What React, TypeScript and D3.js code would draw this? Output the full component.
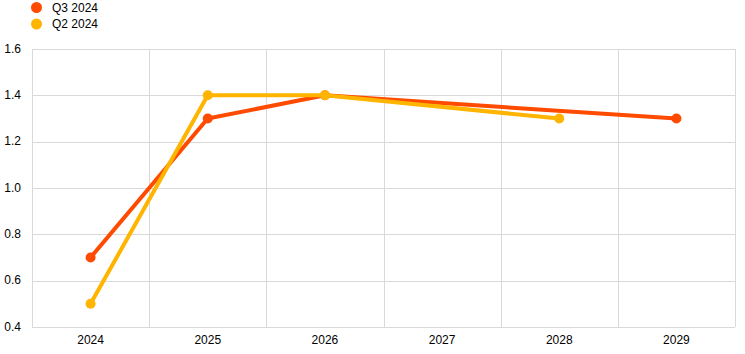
import React from "react";
import * as d3 from "d3";

const categories = ["2024", "2025", "2026", "2027", "2028", "2029"];
const q3Values: (number | null)[] = [0.7, 1.3, 1.4, null, null, 1.3];
const q2Values: (number | null)[] = [0.5, 1.4, 1.4, null, 1.3, null];
const yTicks = [0.4, 0.6, 0.8, 1.0, 1.2, 1.4, 1.6];
const seriesNames = ["Q3 2024", "Q2 2024"];
const seriesColors = ["#FF4B00", "#FFB400"];

const W = 745;
const H = 354;
const margin = { left: 32, right: 10, top: 49, bottom: 27 };

export default function App() {
  const x = d3
    .scaleBand<string>()
    .domain(categories)
    .range([margin.left, W - margin.right])
    .padding(0);
  const y = d3.scaleLinear().domain([0.4, 1.6]).range([H - margin.bottom, margin.top]);
  const cx = (c: string) => (x(c) as number) + x.bandwidth() / 2;

  const series = [q3Values, q2Values];
  const font = "Arial, 'Liberation Sans', sans-serif";

  const line = d3
    .line<{ c: string; v: number }>()
    .x((d) => cx(d.c))
    .y((d) => y(d.v));

  return (
    <svg
      width={W}
      height={H}
      style={{ position: "absolute", left: 0, top: 0, background: "#fff" }}
      fontFamily={font}
    >
      {yTicks.map((t) => (
        <line
          key={"h" + t}
          x1={margin.left}
          x2={W - margin.right}
          y1={Math.round(y(t)) + 0.5}
          y2={Math.round(y(t)) + 0.5}
          stroke="#d9d9d9"
          strokeWidth={1}
        />
      ))}
      {categories.map((c) => (
        <line
          key={"v" + c}
          x1={Math.round(x(c) as number) + 0.5}
          x2={Math.round(x(c) as number) + 0.5}
          y1={margin.top}
          y2={H - margin.bottom}
          stroke="#d9d9d9"
          strokeWidth={1}
        />
      ))}
      <line
        x1={W - margin.right + 0.5}
        x2={W - margin.right + 0.5}
        y1={margin.top}
        y2={H - margin.bottom}
        stroke="#d9d9d9"
      />
      {yTicks.map((t) => (
        <text
          key={"yl" + t}
          x={21}
          y={y(t)}
          dy="0.3em"
          textAnchor="end"
          fontSize={12}
          fill="#000"
        >
          {t.toFixed(1)}
        </text>
      ))}
      {categories.map((c) => (
        <text key={"xl" + c} x={cx(c)} y={344} textAnchor="middle" fontSize={12} fill="#000">
          {c}
        </text>
      ))}
      {series.map((vals, i) => {
        const pts = categories
          .map((c, j) => ({ c, v: vals[j] }))
          .filter((d) => d.v !== null) as { c: string; v: number }[];
        return (
          <g key={"s" + i}>
            <path
              d={line(pts) || ""}
              fill="none"
              stroke={seriesColors[i]}
              strokeWidth={4}
              strokeLinejoin="round"
            />
            {pts.map((p) => (
              <circle key={p.c} cx={cx(p.c)} cy={y(p.v)} r={5} fill={seriesColors[i]} />
            ))}
          </g>
        );
      })}
      {seriesNames.map((n, i) => (
        <g key={"lg" + n}>
          <circle cx={36.5} cy={7.5 + i * 16.5} r={5.5} fill={seriesColors[i]} />
          <text x={52} y={7.5 + i * 16.5} dy="0.35em" fontSize={12} fill="#000">
            {n}
          </text>
        </g>
      ))}
    </svg>
  );
}
